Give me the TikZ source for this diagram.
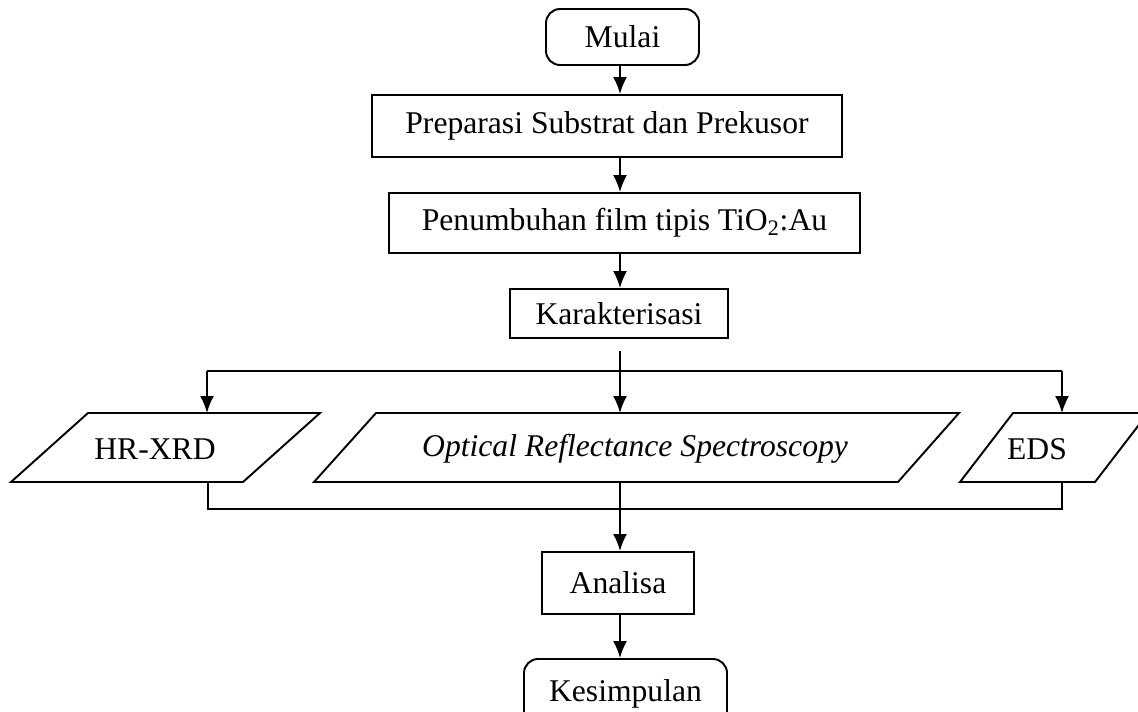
\documentclass[tikz,border=0pt]{standalone}
\usepackage{fontspec}
\setmainfont{Liberation Serif}
\usepackage{tikz}
\usetikzlibrary{arrows.meta}

\tikzset{
	box/.style = {draw, line width=1.1pt, inner sep=0pt, font=\fontsize{18}{21}\selectfont},
	terminal/.style = {box, rounded corners=8pt},
	flow/.style = {line width=1.1pt, -{Latex[length=3.4mm, width=2.8mm]}},
	link/.style = {line width=1.1pt},
	label/.style = {font=\fontsize{18}{21}\selectfont, inner sep=0pt}
}

\begin{document}
\begin{tikzpicture}
			\def\xMAX{22.76};
			\def\yMAX{14.22};

			\def\yTOP{5.96};
			\def\yBOT{4.58};

			\clip (0,0) rectangle (\xMAX,\yMAX);
			\coordinate (spine) at (12.4,0);

			% main column
			\node [terminal, minimum width=3.06cm, minimum height=1.12cm] (mulai) at (12.45,13.48) {Mulai};
			\node [box, minimum width=9.4cm, minimum height=1.24cm] (prep) at (12.14,11.70) {Preparasi Substrat dan Prekusor};
			\node [box, minimum width=9.42cm, minimum height=1.2cm] (tumbuh) at (12.49,9.76) {Penumbuhan film tipis TiO\textsubscript{2}:Au};
			\node [box, minimum width=4.36cm, minimum height=0.98cm] (karak) at (12.38,7.95) {Karakterisasi};
			\node [box, minimum width=3.04cm, minimum height=1.24cm] (analisa) at (12.36,2.56) {Analisa};
			\node [terminal, minimum width=4.06cm, minimum height=1.4cm] (simpul) at (12.51,0.34) {Kesimpulan};

			% characterisation methods
			\draw [link] (0.22,\yBOT) -- (1.76,\yTOP) -- (6.40,\yTOP) -- (4.86,\yBOT) -- cycle;
			\draw [link] (6.28,\yBOT) -- (7.52,\yTOP) -- (19.18,\yTOP) -- (17.96,\yBOT) -- cycle;
			\draw [link] (19.20,\yBOT) -- (20.26,\yTOP) -- (22.96,\yTOP) -- (21.90,\yBOT) -- cycle;
			\node [label] (hrxrd) at (3.1,5.24) {HR-XRD};
			\node [label] (ors) at (12.70,5.24) {\itshape Optical Reflectance Spectroscopy};
			\node [label] (eds) at (20.74,5.24) {EDS};

			\coordinate (hrtop) at (4.14,\yTOP);
			\coordinate (edstop) at (21.24,\yTOP);
			\coordinate (hrbot) at (4.16,\yBOT);
			\coordinate (edsbot) at (21.24,\yBOT);
			\coordinate (split) at (12.4,6.80);
			\coordinate (stub) at (12.4,7.20);
			\coordinate (merge) at (12.4,4.04);

			\begin{scope}[flow]
				\draw (mulai.south -| spine) -- (prep.north -| spine);
				\draw (prep.south -| spine) -- (tumbuh.north -| spine);
				\draw (tumbuh.south -| spine) -- (karak.north -| spine);
				\draw (split) -- (spine |- 0,\yTOP);
				\draw (hrtop |- split) -- (hrtop);
				\draw (edstop |- split) -- (edstop);
				\draw (spine |- 0,\yBOT) -- (analisa.north -| spine);
				\draw (analisa.south -| spine) -- (simpul.north -| spine);
			\end{scope}

			\begin{scope}[link]
				\draw (stub) -- (split);
				\draw (hrtop |- split) -- (edstop |- split);
				\draw (hrbot) -- (hrbot |- merge) -- (edsbot |- merge) -- (edsbot);
			\end{scope}
		\end{tikzpicture}
\end{document}
